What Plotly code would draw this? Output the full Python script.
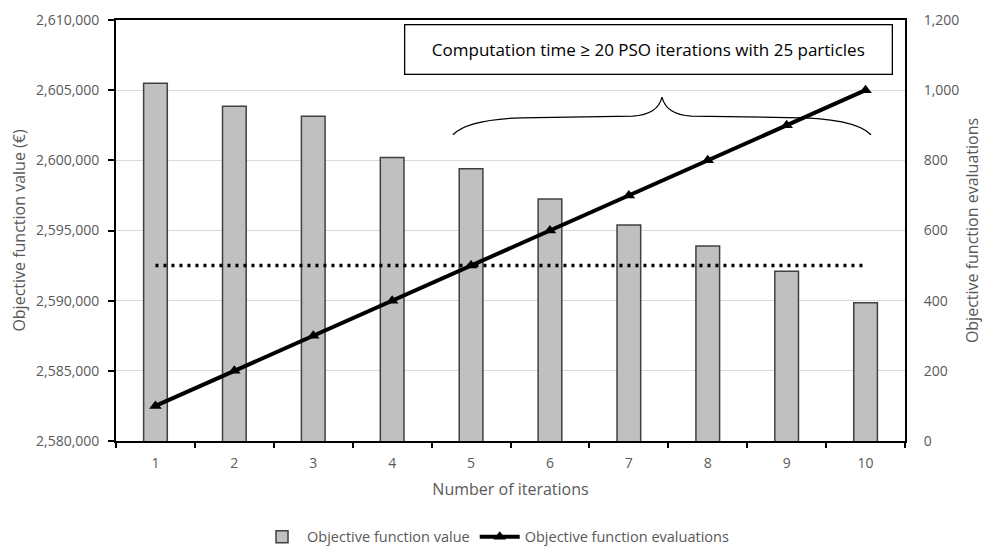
import plotly.graph_objects as go

# Iterations, objective values (EUR) and cumulative evaluations
iterations = [1, 2, 3, 4, 5, 6, 7, 8, 9, 10]
objective_value = [2605500, 2603850, 2603150, 2600200, 2599400,
                   2597250, 2595400, 2593900, 2592100, 2589850]
evaluations = [100, 200, 300, 400, 500, 600, 700, 800, 900, 1000]
# Budget of 20 PSO iterations x 25 particles
pso_budget = 20 * 25

GRAY_TXT = "#595959"
FONT = "Open Sans"

fig = go.Figure()

fig.add_trace(go.Bar(
    x=iterations, y=objective_value, name="Objective function value",
    width=0.3, marker=dict(color="#c0c0c0", line=dict(color="#404040", width=1.5)),
    yaxis="y",
))

fig.add_trace(go.Scatter(
    x=[iterations[0], iterations[-1]], y=[pso_budget, pso_budget],
    mode="lines", line=dict(color="black", width=3.5, dash="3px,5px"),
    yaxis="y2", showlegend=False, hoverinfo="skip",
))

fig.add_trace(go.Scatter(
    x=iterations, y=evaluations, name="Objective function evaluations",
    mode="lines+markers", line=dict(color="black", width=4),
    marker=dict(symbol="triangle-up", size=11, color="black"),
    yaxis="y2",
))

# Curly brace over the iterations that exceed the PSO evaluation budget
def brace_path(x0, x1, y_end, y_mid, y_peak):
    xm = (x0 + x1) / 2
    d = x1 - x0
    return (f"M {x0},{y_end} Q {x0 + 0.04*d},{y_mid} {x0 + 0.2*d},{y_mid} "
            f"L {xm - 0.07*d},{y_mid + 4} Q {xm - 0.01*d},{y_mid + 8} {xm},{y_peak} "
            f"Q {xm + 0.01*d},{y_mid + 8} {xm + 0.07*d},{y_mid + 4} "
            f"L {x1 - 0.2*d},{y_mid} Q {x1 - 0.04*d},{y_mid} {x1},{y_end}")

brace_x0 = iterations[4] - 0.23
brace_x1 = iterations[-1] + 0.07
fig.add_shape(type="path", xref="x", yref="y2",
              path=brace_path(brace_x0, brace_x1, 873, 922, 980),
              line=dict(color="black", width=1.2))

fig.add_annotation(
    text="Computation time ≥ 20 PSO iterations with 25 particles",
    xref="paper", yref="paper", x=0.675, y=0.929,
    xanchor="center", yanchor="middle",
    showarrow=False, font=dict(family=FONT, size=17, color="black"),
    width=484, height=46, bordercolor="black", borderwidth=1.3,
    borderpad=1, bgcolor="white",
)

TITLE_FONT = dict(size=16, color=GRAY_TXT)
TICK_FONT = dict(size=14, color=GRAY_TXT)

fig.update_layout(
    width=983, height=546,
    margin=dict(l=116, r=78, t=20, b=105, autoexpand=False),
    plot_bgcolor="white", paper_bgcolor="white",
    font=dict(family=FONT, size=14, color=GRAY_TXT),
    bargap=0.7,
    xaxis=dict(
        range=[0.5, 10.5], tickvals=iterations, ticks="",
        minor=dict(ticks="outside", tick0=0.5, dtick=1, ticklen=5,
                   tickcolor="black", tickwidth=1.5, showgrid=False),
        showline=True, linecolor="black", linewidth=1.8, mirror=True,
        showgrid=False, ticklabelstandoff=8, automargin=False,
        title=dict(text="Number of iterations", font=TITLE_FONT, standoff=13),
        tickfont=TICK_FONT,
    ),
    yaxis=dict(
        range=[2580000, 2610000], dtick=5000, tickformat=",",
        ticks="outside", ticklen=6, tickcolor="black", tickwidth=1.5,
        showline=True, linecolor="black", linewidth=1.8, mirror=True,
        showgrid=True, gridcolor="#d9d9d9", gridwidth=1.2, zeroline=False,
        ticklabelstandoff=6, automargin=False,
        title=dict(text="Objective function value (€)", font=TITLE_FONT, standoff=6),
        tickfont=TICK_FONT,
    ),
    yaxis2=dict(
        range=[0, 1200], dtick=200, tickformat=",", overlaying="y", side="right",
        ticks="", showline=True, linecolor="black", linewidth=1.8,
        showgrid=False, zeroline=False, ticklabelstandoff=14, automargin=False,
        title=dict(text="Objective function evaluations", font=TITLE_FONT, standoff=12),
        tickfont=TICK_FONT,
    ),
    legend=dict(orientation="h", x=0.481, xanchor="center",
                yref="container", y=0.017, yanchor="middle",
                font=dict(size=14.5, color=GRAY_TXT), itemwidth=40,
                traceorder="normal"),
)

fig.write_html("out.html")
